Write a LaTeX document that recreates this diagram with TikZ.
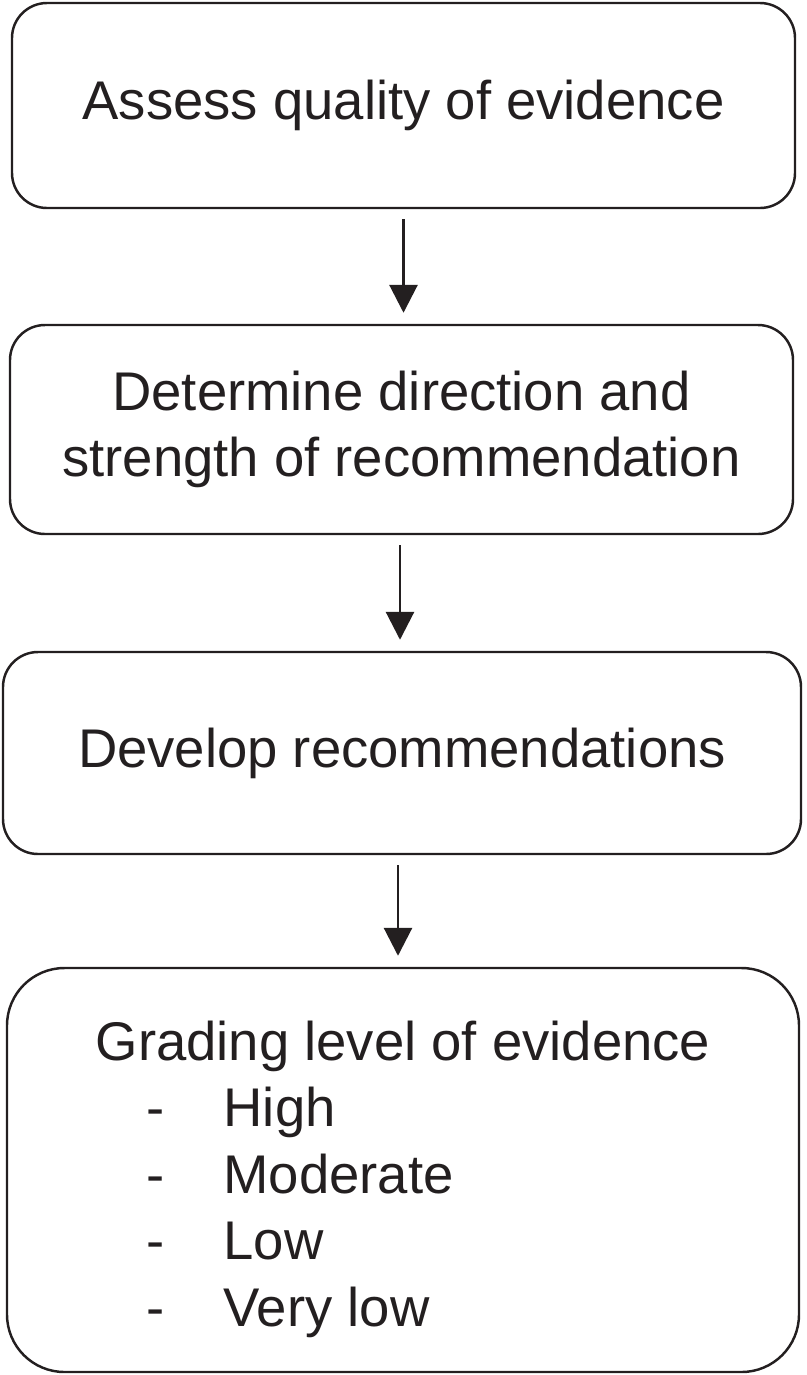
\documentclass[tikz,border=0pt]{standalone}
\usepackage{fontspec}
\setmainfont{Liberation Sans}
\usetikzlibrary{arrows.meta}
\definecolor{ink}{HTML}{231F20}
\begin{document}
\begin{tikzpicture}[stage/.style={shape=rectangle,draw=ink,line width=1.4pt,rounded corners=0.7cm,align=center,text=ink,font=\fontsize{31}{37.8}\selectfont,inner sep=0pt},leadsto/.style={draw=ink,line width=1.7pt,-{Triangle[width=0.56cm,length=0.56cm]},shorten <=0.2cm,shorten >=0.22cm}]
\useasboundingbox (0,0) rectangle (16.14,-27.5);
\node[stage,minimum width=15.66cm,minimum height=4.1cm] (QE) at (8.07,-2.11) {Assess quality of evidence};
\node[stage,minimum width=15.66cm,minimum height=4.18cm] (DS) at (8.03,-8.59) {Determine direction and\\strength of recommendation};
\node[stage,minimum width=15.96cm,minimum height=4.04cm] (DR) at (8.04,-15.06) {Develop recommendations};
\node[stage,minimum width=15.84cm,minimum height=8.08cm,rounded corners=1.15cm] (GL) at (8.06,-23.4) {\begin{tabular}{@{}l@{}}\rule{0pt}{1.33cm}Grading level of evidence\\
\hspace*{1.02cm}\makebox[1.54cm][l]{-}High\\
\hspace*{1.02cm}\makebox[1.54cm][l]{-}Moderate\\
\hspace*{1.02cm}\makebox[1.54cm][l]{-}Low\\
\hspace*{1.02cm}\makebox[1.54cm][l]{-}Very low\end{tabular}};
\draw[leadsto] (QE.south) -- (QE.south |- DS.north);
\draw[leadsto] ([xshift=-0.03cm]DS.south) -- ([xshift=-0.03cm]DS.south |- DR.north);
\draw[leadsto] ([xshift=-0.08cm]DR.south) -- ([xshift=-0.08cm]DR.south |- GL.north);
\end{tikzpicture}
\end{document}
